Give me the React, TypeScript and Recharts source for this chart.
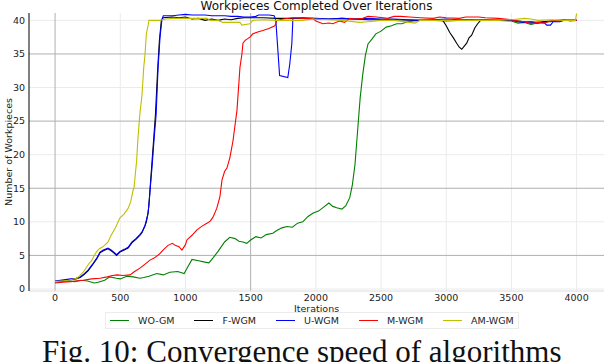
import { LineChart, Line, XAxis, YAxis, CartesianGrid } from 'recharts';

// Iterations / workpieces, one pair of arrays per algorithm
const woGmIter = [0, 50, 100, 150, 200, 250, 300, 330, 380, 420, 470, 500, 550, 600, 650, 680, 720, 780, 830, 880, 940, 990, 1010, 1050, 1100, 1150, 1180, 1210, 1250, 1300, 1340, 1380, 1410, 1440, 1470, 1500, 1540, 1580, 1620, 1670, 1700, 1740, 1780, 1820, 1860, 1900, 1940, 1980, 2020, 2060, 2100, 2130, 2160, 2200, 2230, 2260, 2280, 2300, 2320, 2340, 2360, 2380, 2400, 2430, 2460, 2500, 2540, 2580, 2620, 2660, 2700, 2750, 2800, 2900, 3000, 3100, 3200, 3300, 3400, 3500, 3550, 3600, 3650, 3700, 3750, 3800, 3850, 3900, 3950, 4000];
const woGmVals = [1.0, 1.1, 1.2, 1.1, 1.3, 1.2, 0.9, 1.0, 1.3, 1.8, 1.6, 1.5, 1.9, 1.8, 1.6, 1.7, 1.9, 2.3, 2.1, 2.5, 2.6, 2.3, 3.0, 4.4, 4.2, 4.0, 3.9, 4.6, 5.6, 7.0, 7.7, 7.5, 7.1, 7.0, 6.8, 7.3, 7.8, 7.6, 8.1, 8.3, 8.7, 9.1, 9.3, 9.2, 9.8, 10.0, 10.8, 11.3, 11.6, 12.2, 12.8, 12.3, 12.1, 11.9, 12.4, 13.6, 15.5, 18.5, 23.5, 28.5, 32.0, 34.8, 36.5, 37.2, 38.0, 38.4, 39.0, 39.2, 39.5, 39.5, 39.8, 39.9, 40.0, 40.0, 39.9, 40.0, 40.0, 40.1, 40.0, 39.9, 39.6, 39.7, 39.4, 39.6, 39.8, 39.8, 39.9, 40.0, 40.0, 40.0];

const fWgmIter = [0, 40, 80, 120, 160, 192, 220, 253, 291, 320, 345, 370, 406, 430, 450, 472, 498, 530, 560, 590, 620, 650, 667, 690, 700, 715, 725, 740, 755, 770, 785, 800, 815, 830, 900, 950, 1000, 1050, 1100, 1150, 1200, 1250, 1300, 1350, 1400, 1450, 1500, 1600, 1700, 1800, 1900, 2000, 2100, 2200, 2400, 2600, 2800, 2973, 3000, 3027, 3055, 3080, 3100, 3119, 3140, 3157, 3175, 3195, 3220, 3241, 3264, 3400, 3500, 3600, 3700, 3800, 3900, 4000];
const fWgmVals = [1.1, 1.2, 1.3, 1.4, 1.5, 1.7, 2.1, 2.7, 3.7, 4.5, 5.4, 5.7, 6.0, 5.7, 5.4, 5.0, 5.5, 5.8, 6.1, 6.9, 7.4, 8.0, 8.4, 9.4, 10.0, 11.5, 14.0, 18.0, 22.0, 26.0, 32.0, 37.0, 40.0, 40.4, 40.5, 40.4, 40.5, 40.2, 40.3, 40.0, 40.2, 40.0, 40.2, 40.1, 40.3, 40.4, 40.4, 40.4, 40.3, 40.3, 40.3, 40.2, 40.2, 40.3, 40.1, 40.1, 40.0, 40.0, 39.2, 38.2, 37.4, 36.6, 36.0, 35.7, 36.2, 36.6, 37.4, 37.8, 38.9, 39.5, 40.0, 40.0, 40.0, 39.8, 39.7, 39.9, 40.0, 40.0];

const uWgmIter = [0, 40, 80, 120, 160, 192, 220, 253, 291, 320, 345, 370, 406, 430, 450, 472, 498, 530, 560, 590, 620, 650, 667, 690, 710, 720, 730, 745, 760, 775, 790, 805, 820, 830, 900, 950, 1000, 1050, 1100, 1150, 1200, 1250, 1300, 1350, 1400, 1450, 1500, 1540, 1560, 1640, 1680, 1693, 1709, 1722, 1785, 1800, 1816, 1824, 1900, 2000, 2100, 2200, 2300, 2400, 2500, 2600, 2700, 2800, 2900, 3000, 3100, 3200, 3300, 3400, 3500, 3550, 3600, 3650, 3700, 3750, 3770, 3800, 3820, 3870, 3900, 4000];
const uWgmVals = [1.2, 1.3, 1.4, 1.5, 1.6, 1.8, 2.2, 2.8, 3.8, 4.6, 5.5, 5.8, 6.1, 5.8, 5.5, 5.1, 5.6, 5.9, 6.2, 7.0, 7.5, 8.1, 8.5, 9.5, 11.0, 12.5, 15.0, 18.5, 22.5, 26.0, 33.0, 37.5, 40.2, 40.7, 40.7, 40.8, 40.9, 40.8, 40.8, 40.8, 40.7, 40.7, 40.7, 40.6, 40.6, 40.5, 40.5, 40.6, 40.8, 40.8, 40.7, 40.0, 35.5, 31.8, 31.5, 33.5, 36.6, 40.3, 40.4, 40.3, 40.2, 40.3, 40.2, 40.3, 40.2, 40.2, 40.1, 40.0, 40.1, 40.2, 40.1, 40.1, 40.0, 40.0, 40.1, 39.8, 39.7, 39.8, 39.6, 39.7, 39.3, 39.3, 39.8, 39.8, 40.0, 40.0];

const mWgmIter = [0, 60, 120, 215, 280, 345, 400, 440, 475, 520, 575, 610, 651, 690, 728, 760, 800, 828, 866, 900, 921, 950, 973, 1000, 1011, 1050, 1088, 1130, 1165, 1190, 1211, 1240, 1264, 1280, 1300, 1318, 1340, 1364, 1395, 1418, 1433, 1441, 1456, 1494, 1517, 1560, 1594, 1640, 1686, 1701, 1750, 1824, 1900, 1977, 2000, 2054, 2100, 2130, 2180, 2220, 2260, 2300, 2360, 2400, 2467, 2550, 2600, 2650, 2720, 2800, 2900, 2950, 3000, 3100, 3150, 3250, 3300, 3400, 3500, 3550, 3600, 3650, 3700, 3750, 3800, 3850, 3900, 3950, 4000];
const mWgmVals = [0.9, 1.0, 1.1, 1.3, 1.5, 1.6, 1.8, 2.0, 2.1, 2.0, 2.1, 2.6, 3.1, 3.7, 4.3, 4.6, 5.2, 5.8, 6.5, 6.8, 6.5, 6.3, 5.8, 6.6, 7.3, 8.0, 8.8, 9.4, 9.8, 10.1, 10.7, 12.0, 13.7, 16.2, 17.5, 18.0, 19.5, 22.0, 26.6, 33.0, 35.0, 36.6, 37.0, 37.5, 38.0, 38.3, 38.5, 38.8, 39.2, 40.0, 40.2, 40.4, 40.3, 40.3, 39.9, 39.5, 39.6, 39.5, 39.9, 39.7, 40.3, 40.2, 40.3, 40.6, 40.5, 40.3, 40.6, 40.6, 40.5, 40.4, 40.3, 40.5, 40.4, 40.3, 40.5, 40.5, 40.4, 40.3, 40.1, 39.9, 39.8, 39.5, 39.7, 39.6, 39.9, 40.0, 40.1, 39.9, 40.0];

const amWgmIter = [0, 50, 100, 140, 168, 190, 215, 240, 260, 283, 300, 320, 340, 360, 380, 406, 430, 460, 498, 530, 560, 580, 598, 605, 613, 625, 636, 650, 667, 680, 690, 700, 713, 720, 760, 800, 850, 904, 1000, 1100, 1165, 1190, 1250, 1287, 1350, 1418, 1433, 1494, 1517, 1600, 1700, 1800, 1900, 1977, 2100, 2200, 2337, 2400, 2500, 2600, 2720, 2760, 2800, 2900, 3000, 3200, 3400, 3500, 3600, 3650, 3700, 3800, 3900, 3990, 4000];
const amWgmVals = [1.1, 1.2, 1.3, 1.5, 1.6, 2.0, 2.5, 3.2, 3.8, 4.3, 5.0, 5.6, 6.0, 6.2, 6.5, 7.0, 8.0, 9.0, 10.6, 11.2, 12.0, 13.0, 14.7, 15.0, 16.6, 19.0, 22.6, 26.0, 29.0, 33.0, 35.0, 38.0, 39.2, 40.0, 40.0, 40.0, 40.2, 40.3, 40.3, 40.3, 40.3, 40.0, 40.0, 39.7, 39.7, 39.7, 39.3, 39.5, 40.0, 40.1, 40.0, 40.0, 40.0, 40.2, 40.1, 40.0, 39.7, 39.8, 40.0, 40.0, 39.7, 39.6, 40.0, 40.0, 40.0, 40.0, 40.0, 40.1, 40.3, 40.2, 40.0, 40.1, 40.0, 40.0, 41.0];

const xTicks = [0, 500, 1000, 1500, 2000, 2500, 3000, 3500, 4000];
const yTicks = [0, 5, 10, 15, 20, 25, 30, 35, 40];

const toPoints = (iter: number[], vals: number[]) => iter.map((x, i) => ({ x, y: vals[i] }));

const SERIES = [
  { name: 'WO-GM', color: '#008000', data: toPoints(woGmIter, woGmVals) },
  { name: 'F-WGM', color: '#000000', data: toPoints(fWgmIter, fWgmVals) },
  { name: 'U-WGM', color: '#0000ff', data: toPoints(uWgmIter, uWgmVals) },
  { name: 'M-WGM', color: '#ff0000', data: toPoints(mWgmIter, mWgmVals) },
  { name: 'AM-WGM', color: '#bfbf00', data: toPoints(amWgmIter, amWgmVals) },
];

const FONT = '"DejaVu Sans", sans-serif';
const tickStyle = { fontSize: 9.5, fill: '#222', fontFamily: FONT };

function LegendBox() {
  return (
    <div
      style={{
        position: 'absolute',
        left: 105,
        top: 312,
        display: 'flex',
        alignItems: 'center',
        height: 17,
        padding: '0 4px',
        border: '1px solid #ececec',
        background: '#fff',
        fontFamily: FONT,
        fontSize: 9.5,
        color: '#222',
        boxSizing: 'border-box',
      }}
    >
      {SERIES.map((s, i) => (
        <div key={s.name} style={{ display: 'flex', alignItems: 'center', marginLeft: i === 0 ? 0 : 20 }}>
          <div style={{ width: 19, height: 1.5, background: s.color, marginRight: 9 }} />
          <span>{s.name}</span>
        </div>
      ))}
    </div>
  );
}

export default function App() {
  return (
    <div style={{ position: 'absolute', left: 0, top: 0, width: 604, height: 362, background: '#fff', overflow: 'hidden' }}>
      <div
        style={{
          position: 'absolute',
          left: 29,
          width: 575,
          top: 0,
          textAlign: 'center',
          fontFamily: FONT,
          fontSize: 12,
          lineHeight: '13px',
          color: '#111',
        }}
      >
        Workpieces Completed Over Iterations
      </div>
      <LineChart width={604} height={362} data={[]} margin={{ top: 13, right: 0, bottom: 51, left: 0 }}>
        <CartesianGrid
          stroke="#ebebeb"
          strokeWidth={1}
          horizontalValues={[0, 10, 20, 30, 40]}
          verticalValues={[500, 1000, 2000, 2500, 3000, 3500, 4000]}
        />
        <CartesianGrid stroke="#b0b0b0" strokeWidth={1} horizontalValues={[5, 15, 25, 35]} verticalValues={[0, 1500]} />
        <XAxis
          type="number"
          dataKey="x"
          domain={[-200, 4210]}
          ticks={xTicks}
          allowDataOverflow
          height={20}
          tickSize={0}
          tickMargin={3}
          tick={tickStyle}
          axisLine={{ stroke: '#dcdcdc' }}
          tickLine={false}
          label={{ value: 'Iterations', position: 'insideBottom', offset: -1, style: { fontSize: 9.5, fill: '#222', fontFamily: FONT } }}
        />
        <YAxis
          type="number"
          dataKey="y"
          domain={[-0.3, 41.1]}
          ticks={yTicks}
          allowDataOverflow
          width={29}
          tickSize={0}
          tickMargin={4}
          tick={tickStyle}
          axisLine={{ stroke: '#000' }}
          tickLine={false}
          label={{ value: 'Number of Workpieces', angle: -90, position: 'insideLeft', offset: 9, style: { fontSize: 9.5, fill: '#222', fontFamily: FONT, textAnchor: 'middle' } }}
        />
        {SERIES.map((s) => (
          <Line
            key={s.name}
            data={s.data}
            dataKey="y"
            name={s.name}
            type="linear"
            stroke={s.color}
            strokeWidth={1.1}
            dot={false}
            isAnimationActive={false}
          />
        ))}
      </LineChart>
      <LegendBox />
      <div
        style={{
          position: 'absolute',
          left: 42,
          top: 336,
          whiteSpace: 'nowrap',
          fontFamily: '"Liberation Serif", "Times New Roman", serif',
          fontSize: 31,
          lineHeight: '31px',
          color: '#111',
        }}
      >
        Fig. 10: Convergence speed of algorithms
      </div>
    </div>
  );
}
